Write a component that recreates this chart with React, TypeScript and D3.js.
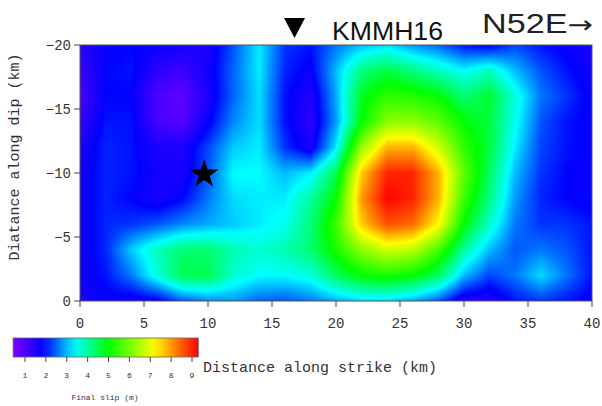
import React, { useMemo } from "react";
import * as d3 from "d3";

// grid nodes (km)
const strikeKm = [0, 2, 4, 6, 8, 10, 12, 14, 16, 18, 20, 22, 24, 26, 28, 30, 32, 34, 36, 38, 40];
const dipKm = [-20, -18, -16, -14, -12, -10, -8, -6, -4, -2, 0];

// final slip (m), one row per dip node, top (-20) to bottom (0)
const slipM20 = [1.5, 1.8, 1.9, 1.8, 1.7, 1.6, 2.4, 3.3, 2.2, 2.0, 2.6, 3.0, 3.2, 2.8, 2.5, 2.0, 1.8, 2.3, 2.0, 1.8, 1.6];
const slipM18 = [1.2, 1.9, 2.0, 1.4, 1.2, 1.7, 2.5, 3.3, 2.1, 1.8, 3.0, 4.2, 4.6, 4.2, 3.8, 3.4, 3.8, 3.0, 2.4, 2.0, 1.7];
const slipM16 = [1.0, 1.9, 1.9, 1.0, 0.8, 1.6, 2.5, 3.2, 2.0, 1.5, 2.9, 4.8, 5.4, 5.3, 5.0, 4.3, 4.7, 3.6, 2.6, 2.2, 1.8];
const slipM14 = [1.3, 2.0, 2.0, 1.1, 0.9, 1.8, 2.7, 3.2, 2.0, 1.4, 2.8, 5.0, 6.2, 6.2, 5.8, 5.0, 4.6, 3.5, 2.4, 2.0, 1.8];
const slipM12 = [1.6, 2.1, 2.0, 1.6, 1.6, 2.3, 3.1, 3.3, 2.2, 1.6, 3.3, 6.3, 7.8, 7.8, 6.8, 5.4, 4.6, 3.3, 2.3, 2.0, 1.8];
const slipM10 = [1.7, 2.1, 2.0, 1.7, 1.6, 2.4, 3.4, 3.4, 3.0, 3.3, 4.5, 7.6, 9.0, 9.0, 7.8, 5.8, 4.4, 3.0, 2.2, 1.9, 1.8];
const slipM8 = [1.7, 2.1, 1.9, 1.6, 1.9, 2.6, 3.2, 3.3, 3.3, 4.0, 5.0, 8.0, 9.3, 9.0, 7.8, 5.5, 4.2, 2.8, 2.1, 1.9, 1.8];
const slipM6 = [1.7, 2.1, 2.2, 2.4, 2.7, 2.9, 3.1, 3.3, 3.5, 4.2, 5.5, 7.6, 8.6, 8.4, 7.2, 5.0, 3.7, 2.6, 2.2, 2.2, 2.0];
const slipM4 = [1.7, 2.1, 3.1, 3.8, 4.3, 4.3, 3.9, 3.7, 3.9, 4.3, 5.2, 6.2, 6.8, 6.6, 5.6, 4.0, 3.0, 2.4, 2.6, 2.4, 2.0];
const slipM2 = [1.7, 2.0, 2.6, 3.6, 4.5, 4.5, 3.7, 3.4, 3.4, 3.6, 4.4, 5.0, 5.2, 5.0, 4.4, 3.0, 2.3, 2.6, 3.2, 2.6, 2.0];
const slip0 = [1.6, 1.8, 1.7, 1.8, 2.4, 2.7, 2.8, 2.5, 2.4, 2.6, 2.9, 3.2, 3.2, 2.9, 2.4, 1.5, 1.5, 2.0, 2.2, 2.0, 1.8];
const slipRows = [slipM20, slipM18, slipM16, slipM14, slipM12, slipM10, slipM8, slipM6, slipM4, slipM2, slip0];

const xTicks = [0, 5, 10, 15, 20, 25, 30, 35, 40];
const yTicks = [-20, -15, -10, -5, 0];
const cbTicks = [1, 2, 3, 4, 5, 6, 7, 8, 9];
const cbMin = 0.43;
const cbMax = 9.3;
const hypocenter = { x: 9.7, y: -9.9 };

const colorStops = [0.4, 1.9, 3.4, 5.0, 7.2, 8.2, 9.3];
const colorRange = ["#8000ff", "#0000ff", "#00ffff", "#00ff00", "#ffff00", "#ff8000", "#ff0000"];

const W = 602;
const H = 406;
const mono = "'Liberation Mono', 'DejaVu Sans Mono', monospace";
const sans = "'Liberation Sans', Arial, sans-serif";

export default function App() {
  const left = 80, right = 592, top = 45, bottom = 301;
  const x = d3.scaleLinear().domain([0, 40]).range([left, right]);
  const y = d3.scaleLinear().domain([-20, 0]).range([top, bottom]);
  const color = d3.scaleLinear<string>().domain(colorStops).range(colorRange).clamp(true);
  const cbX = d3.scaleLinear().domain([1, 9]).range([25, 192]);

  // bilinear slip surface rendered to a raster
  const imgUrl = useMemo(() => {
    const pw = right - left, ph = bottom - top;
    const canvas = document.createElement("canvas");
    canvas.width = pw;
    canvas.height = ph;
    const ctx = canvas.getContext("2d");
    if (!ctx) return "";
    const img = ctx.createImageData(pw, ph);
    const gx = d3.scaleLinear().domain([0, 40]).range([0, strikeKm.length - 1]);
    const gy = d3.scaleLinear().domain([-20, 0]).range([0, dipKm.length - 1]);
    for (let j = 0; j < ph; j++) {
      const fy = gy(y.invert(top + j + 0.5));
      const r0 = Math.min(Math.floor(fy), dipKm.length - 2);
      const ty = fy - r0;
      for (let i = 0; i < pw; i++) {
        const fx = gx(x.invert(left + i + 0.5));
        const c0 = Math.min(Math.floor(fx), strikeKm.length - 2);
        const tx = fx - c0;
        const a = slipRows[r0][c0], b = slipRows[r0][c0 + 1];
        const c = slipRows[r0 + 1][c0], d = slipRows[r0 + 1][c0 + 1];
        const v = (a * (1 - tx) + b * tx) * (1 - ty) + (c * (1 - tx) + d * tx) * ty;
        const rgb = d3.rgb(color(v));
        const k = (j * pw + i) * 4;
        img.data[k] = rgb.r;
        img.data[k + 1] = rgb.g;
        img.data[k + 2] = rgb.b;
        img.data[k + 3] = 255;
      }
    }
    ctx.putImageData(img, 0, 0);
    return canvas.toDataURL();
  }, []);

  const star = d3.symbol().type(d3.symbolStar).size(260)();
  const gradStops = d3.range(0, 1.0001, 0.05).map((t) => {
    const v = cbMin + t * (cbMax - cbMin);
    return { offset: t, col: color(v) };
  });

  return (
    <svg width={W} height={H} style={{ position: "absolute", left: 0, top: 0, background: "#fff" }}>
      <defs>
        <linearGradient id="cb" x1="0" x2="1" y1="0" y2="0">
          {gradStops.map((s, i) => (
            <stop key={i} offset={s.offset} stopColor={s.col} />
          ))}
        </linearGradient>
      </defs>
      <rect width={W} height={H} fill="#fff" />
      <image href={imgUrl} x={left} y={top} width={right - left} height={bottom - top} preserveAspectRatio="none" />
      <rect x={left} y={top} width={right - left} height={bottom - top} fill="none" stroke="#555" strokeWidth={1} />

      {xTicks.map((t) => (
        <g key={"x" + t}>
          <line x1={x(t)} x2={x(t)} y1={bottom} y2={bottom + 6} stroke="#444" />
          <text x={x(t)} y={328} textAnchor="middle" fontFamily={mono} fontSize={14} fill="#333">
            {t}
          </text>
        </g>
      ))}
      {yTicks.map((t) => (
        <g key={"y" + t}>
          <line x1={left - 6} x2={left} y1={y(t)} y2={y(t)} stroke="#444" />
          <text x={71} y={y(t) + 5} textAnchor="end" fontFamily={mono} fontSize={14} fill="#333">
            {t === 0 ? "0" : "\u2212" + Math.abs(t)}
          </text>
        </g>
      ))}

      <text
        transform={`translate(19,${157}) rotate(-90)`}
        textAnchor="middle"
        fontFamily={mono}
        fontSize={15}
        fill="#333"
      >
        Diatance along dip (km)
      </text>
      <text x={203} y={372} fontFamily={mono} fontSize={15} fill="#333">
        Distance along strike (km)
      </text>

      <path d={star} transform={`translate(${x(hypocenter.x)},${y(hypocenter.y)})`} fill="#000" />

      <path d="M284,18 L305,18 L294.5,38 Z" fill="#000" />
      <text x={332} y={40} fontFamily={sans} fontSize={25} fill="#111" textLength={111} lengthAdjust="spacingAndGlyphs">
        KMMH16
      </text>
      <text x={482} y={33} fontFamily={sans} fontSize={27} fill="#222" textLength={111} lengthAdjust="spacingAndGlyphs">
        N52E<tspan fontFamily="'DejaVu Sans', sans-serif" fontSize={24}>→</tspan>
      </text>

      <rect x={cbX(cbMin)} y={338} width={cbX(cbMax) - cbX(cbMin)} height={19} fill="url(#cb)" stroke="#666" strokeWidth={0.8} />
      {cbTicks.map((t) => (
        <g key={"c" + t}>
          <line x1={cbX(t)} x2={cbX(t)} y1={357} y2={362} stroke="#444" />
          <text x={cbX(t)} y={378} textAnchor="middle" fontFamily={mono} fontSize={8} fill="#333">
            {t}
          </text>
        </g>
      ))}
      <text x={105} y={400} textAnchor="middle" fontFamily={mono} fontSize={8} fill="#333">
        Final slip (m)
      </text>
    </svg>
  );
}
